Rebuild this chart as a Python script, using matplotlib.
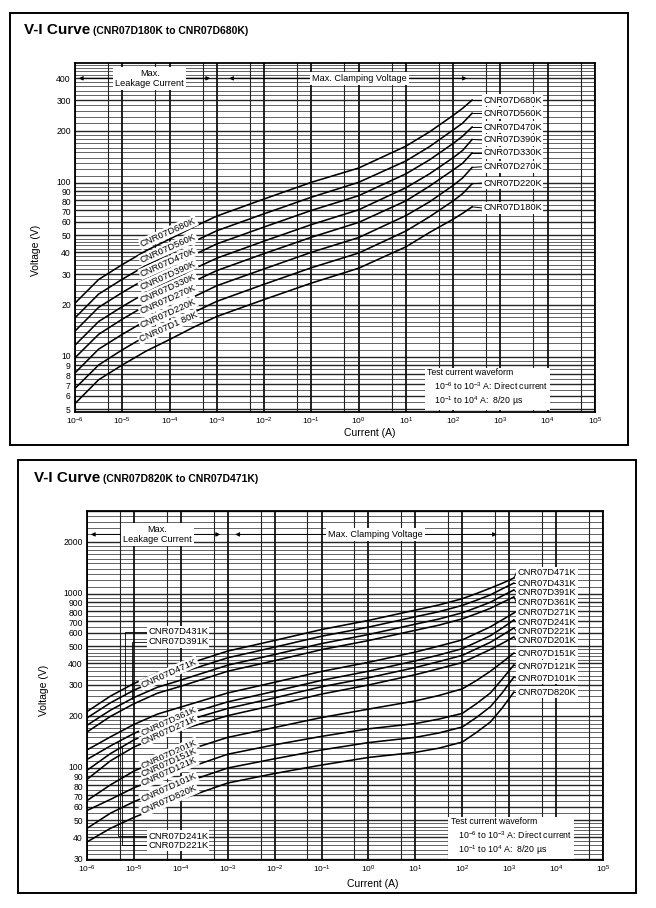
"""V-I curves of the CNR07D varistor series, redrawn from a scanned datasheet page."""

import matplotlib

matplotlib.use("Agg")
import matplotlib.pyplot as plt
import numpy as np
from matplotlib.patches import Rectangle
from matplotlib.transforms import ScaledTranslation

plt.rcParams["font.family"] = ["Liberation Sans", "DejaVu Sans"]
plt.rcParams["mathtext.fontset"] = "custom"
plt.rcParams["mathtext.rm"] = "Liberation Sans"

W, H = 656, 908

# ---- upper chart: CNR07D180K .. CNR07D680K (log10 of current in A, voltage in V)
TOP_LOG_I = [-6, -5.5, -5, -4.5, -4, -3.5, -3, -2, -1, 0, 1, 1.5, 2, 2.2, 2.4]
TOP_NAMES = ["CNR07D680K", "CNR07D560K", "CNR07D470K", "CNR07D390K",
             "CNR07D330K", "CNR07D270K", "CNR07D220K", "CNR07D180K"]
D680K = [20.4, 27.9, 34, 40.8, 47.6, 55.8, 64.6, 81, 101, 122, 163, 197, 245, 269, 300]
D560K = [16.8, 23, 28, 33.6, 39.2, 45.9, 53.2, 66.6, 82.9, 101, 134, 162, 202, 221, 252]
D470K = [14.1, 19.3, 23.5, 28.2, 32.9, 38.5, 44.7, 55.9, 69.6, 84.6, 113, 136, 169, 186, 210]
D390K = [11.7, 16, 19.5, 23.4, 27.3, 32, 37, 46.4, 57.7, 70.2, 94, 113, 140, 154, 178]
D330K = [9.9, 13.5, 16.5, 19.8, 23.1, 27.1, 31.4, 39.3, 48.8, 59.4, 79, 96, 119, 130, 149]
D270K = [8.1, 11.1, 13.5, 16.2, 18.9, 22.1, 25.7, 32.1, 40, 48.6, 65, 78, 97, 107, 123]
D220K = [6.6, 9, 11, 13.2, 15.4, 18, 20.9, 26.2, 32.6, 39.6, 53, 64, 79, 87, 99]
D180K = [5.4, 7.4, 9, 10.8, 12.6, 14.8, 17.1, 21.4, 26.6, 32.4, 43, 52, 62, 67, 73]
TOP_SERIES = [D680K, D560K, D470K, D390K, D330K, D270K, D220K, D180K]
TOP_YTICKS = [5, 6, 7, 8, 9, 10, 20, 30, 40, 50, 60, 70, 80, 90, 100, 200, 300, 400]

# ---- lower chart: CNR07D820K .. CNR07D471K
BOT_LOG_I = [-6, -5.5, -5, -4.5, -4, -3, -2, -1, 0, 1, 1.5, 2, 2.3, 2.6, 2.85, 3.1]
BOT_NAMES = ["CNR07D471K", "CNR07D431K", "CNR07D391K", "CNR07D361K",
             "CNR07D271K", "CNR07D241K", "CNR07D221K", "CNR07D201K",
             "CNR07D151K", "CNR07D121K", "CNR07D101K", "CNR07D820K"]
D471K = [211, 259, 306, 351, 385, 470, 541, 625, 705, 808, 865, 940, 1006, 1081, 1152, 1236]
D431K = [194, 237, 280, 321, 353, 430, 495, 572, 645, 740, 791, 860, 920, 989, 1070, 1156]
D391K = [176, 215, 254, 291, 320, 390, 449, 519, 585, 671, 718, 780, 835, 897, 975, 1055]
D361K = [161, 198, 234, 269, 295, 360, 414, 479, 540, 619, 662, 720, 770, 828, 893, 962]
D271K = [127, 151, 178, 204, 224, 270, 311, 359, 405, 464, 502, 545, 594, 648, 710, 778]
D241K = [112, 134, 158, 181, 199, 240, 276, 319, 360, 413, 446, 485, 528, 576, 637, 709]
D221K = [97, 121, 145, 166, 183, 220, 253, 293, 330, 378, 409, 444, 484, 528, 580, 638]
D201K = [86, 110, 132, 151, 166, 200, 230, 266, 300, 344, 372, 404, 440, 480, 520, 566]
D151K = [65, 80, 96, 110, 123, 150, 171, 195, 218, 243, 261, 285, 318, 360, 405, 458]
D121K = [57, 66, 77, 87, 97, 120, 136, 152, 168, 180, 191, 206, 234, 270, 324, 391]
D101K = [45, 55, 64, 73, 81, 100, 113, 127, 140, 150, 159, 172, 195, 225, 270, 333]
D820K = [37.6, 45, 52, 59, 66, 82, 93, 104, 115, 123, 130, 141, 160, 184, 221, 273]
BOT_SERIES = [D471K, D431K, D391K, D361K, D271K, D241K,
              D221K, D201K, D151K, D121K, D101K, D820K]
BOT_YTICKS = [30, 40, 50, 60, 70, 80, 90, 100, 200, 300, 400, 500,
              600, 700, 800, 900, 1000, 2000]

XDECADES = list(range(-6, 6))

# label placement (voltage level of each tag)
TOP_END_TAG_V = [300, 252, 210, 177, 149, 124, 100, 72]
TOP_SLANT_TAGS = ["CNR07D680K", "CNR07D560K", "CNR07D470K", "CNR07D390K",
                  "CNR07D330K", "CNR07D270K", "CNR07D220K", "CNR07D1 80K"]
TOP_SLANT_V = [52, 42, 35, 29.6, 24.9, 21.3, 17.9, 14.9]
BOT_END_TAG_V = [1321, 1156, 1026, 899, 788, 690, 612, 544, 458, 385, 329, 273]
BOT_SLANT_TAGS = ["CNR07D471K", "CNR07D361K", "CNR07D271K", "CNR07D201K",
                  "CNR07D151K", "CNR07D121K", "CNR07D101K", "CNR07D820K"]
BOT_SLANT_V = [351, 184, 165, 120, 107, 95, 77, 65.5]

WAVEFORM = ("Test current waveform\n   10$^{-6}$ to 10$^{-3}$ A: Direct current\n"
            "   10$^{-1}$ to 10$^{4}$ A:  8/20 \u00b5s")

# the printed scale nudges the crowded top-of-decade labels apart (pixels, + = up)
LABEL_NUDGE = {"1": 1.2, "9": -0.8, "8": -1.6, "7": -1.2}


def fx(px):
    return px / W


def fy(py):
    return 1 - py / H


def white(pad):
    return dict(boxstyle=f"square,pad={pad}", fc="white", ec="none")


def fine_levels(lo, hi):
    """Log-paper rulings: (value, is_integer_multiple)."""
    steps = ([1 + 0.1 * k for k in range(10)] + [2 + 0.2 * k for k in range(15)]
             + [5 + 0.5 * k for k in range(10)])
    out = []
    for d in range(int(np.floor(np.log10(lo))), int(np.ceil(np.log10(hi))) + 1):
        for m in steps:
            v = m * 10.0 ** d
            if lo <= v <= hi:
                out.append((v, abs(m - round(m)) < 1e-6))
    return out


def draw_grid(ax, ylo, yhi):
    for v, major in fine_levels(ylo, yhi):
        ax.axhline(v, color="#262626", lw=1.0 if major else 0.5, zorder=1)
    for d in XDECADES:
        ax.axvline(10.0 ** d, color="#111111", lw=1.3, zorder=1)
        if d < 5:
            ax.axvline(5 * 10.0 ** d, color="#222222", lw=0.8, zorder=1)


def style_axes(ax, ylo, yhi, yticks):
    ax.set_xscale("log")
    ax.set_yscale("log")
    ax.set_xlim(1e-6, 1e5)
    ax.set_ylim(ylo, yhi)
    ax.set_xticks([10.0 ** d for d in XDECADES])
    ax.set_xticklabels([r"$\mathregular{10^{%d}}$" % d for d in XDECADES], fontsize=6)
    ax.set_yticks(yticks)
    ax.set_yticklabels([str(v) for v in yticks], fontsize=6.2)
    ax.xaxis.set_minor_locator(matplotlib.ticker.NullLocator())
    ax.yaxis.set_minor_locator(matplotlib.ticker.NullLocator())
    ax.tick_params(which="both", length=0, pad=3)
    for lab, v in zip(ax.get_yticklabels(), yticks):
        lead = str(v)[0]
        if lead in LABEL_NUDGE and v != 5 * 10 ** int(np.log10(v)):
            dy = LABEL_NUDGE[lead] / 100
            lab.set_transform(lab.get_transform() + ScaledTranslation(0, dy, fig.dpi_scale_trans))
    for s in ax.spines.values():
        s.set_linewidth(1.3)
        s.set_zorder(6)


def range_arrows(ax, yv, leak_x, clamp_x, left_end, right_start, right_head):
    arrow = dict(arrowstyle="-|>", lw=0.7, color="black", mutation_scale=6)
    ax.annotate("", xy=(1.05e-6, yv), xytext=(leak_x * 0.25, yv), arrowprops=arrow, zorder=7)
    ax.annotate("", xy=(left_end, yv), xytext=(leak_x * 5, yv), arrowprops=arrow, zorder=7)
    ax.annotate("", xy=(right_start, yv), xytext=(clamp_x * 0.12, yv), arrowprops=arrow, zorder=7)
    ax.annotate("", xy=(right_head, yv), xytext=(clamp_x * 9, yv), arrowprops=arrow, zorder=7)
    ax.text(leak_x, yv, "Max.\nLeakage Current", ha="center", va="center", fontsize=6.6,
            linespacing=1.15, zorder=8, bbox=white(0.2))
    ax.text(clamp_x, yv, "Max. Clamping Voltage", ha="center", va="center", fontsize=6.6,
            zorder=8, bbox=white(0.2))


def draw_curves(ax, log_i, series):
    x = 10.0 ** np.array(log_i)
    for v in series:
        ax.plot(x, v, color="black", lw=1.15, zorder=3, solid_joinstyle="round")


def end_tags(ax, log_i, series, names, tag_v, tag_x):
    for v, name, tv in zip(series, names, tag_v):
        ax.plot([10.0 ** log_i[-1], tag_x], [v[-1], tv], color="black", lw=0.7, zorder=3)
        ax.text(tag_x * 1.08, tv, name, ha="left", va="center", fontsize=6.7, zorder=8,
                bbox=white(0.15))


def slant_tags(ax, tags, tag_x, tag_v, angle):
    for name, tv in zip(tags, tag_v):
        ax.text(tag_x, tv, name, ha="center", va="center", fontsize=6.8, rotation=angle,
                rotation_mode="anchor", zorder=8, bbox=white(0.12))


def curve_at(log_i, v, x):
    return 10 ** np.interp(x, log_i, np.log10(v))


fig = plt.figure(figsize=(W / 100, H / 100), dpi=100)

# outer frames of the two datasheet panels
fig.patches.append(Rectangle((fx(10), fy(445)), fx(618), 432 / H, transform=fig.transFigure,
                             fill=False, lw=1.4, ec="black"))
fig.patches.append(Rectangle((fx(18), fy(893)), fx(618), 433 / H, transform=fig.transFigure,
                             fill=False, lw=1.4, ec="black"))

# ---------------- upper panel
fig.text(fx(24), fy(30), "V-I Curve", fontsize=11, fontweight="bold", va="center")
fig.text(fx(93), fy(31), "(CNR07D180K to CNR07D680K)", fontsize=7.5, fontweight="bold", va="center")

ax1 = fig.add_axes([fx(75), fy(412), 520 / W, 349 / H])
style_axes(ax1, 4.83, 490, TOP_YTICKS)
draw_grid(ax1, 4.83, 490)
draw_curves(ax1, TOP_LOG_I, TOP_SERIES)
end_tags(ax1, TOP_LOG_I, TOP_SERIES, TOP_NAMES, TOP_END_TAG_V, 10 ** 2.6)
slant_tags(ax1, TOP_SLANT_TAGS, 10 ** -4.03, TOP_SLANT_V, 24)
range_arrows(ax1, 400, 10 ** -4.42, 10 ** 0.02, 10 ** -3.08, 10 ** -2.8, 10 ** 2.35)
ax1.text(10 ** 1.45, 8.6, WAVEFORM, ha="left", va="top", fontsize=6.3,
         linespacing=1.25, zorder=8, bbox=white(0.25))
fig.text(fx(36), fy(250), "Voltage (V)", rotation=90, fontsize=7.5, ha="center", va="center")
fig.text(fx(370), fy(433), "Current (A)", fontsize=7.5, ha="center", va="center")

# ---------------- lower panel
fig.text(fx(34), fy(478), "V-I Curve", fontsize=11, fontweight="bold", va="center")
fig.text(fx(103), fy(479), "(CNR07D820K to CNR07D471K)", fontsize=7.5, fontweight="bold", va="center")

ax2 = fig.add_axes([fx(87), fy(860), 516 / W, 349 / H])
style_axes(ax2, 29.6, 3000, BOT_YTICKS)
draw_grid(ax2, 29.6, 3000)
draw_curves(ax2, BOT_LOG_I, BOT_SERIES)
end_tags(ax2, BOT_LOG_I, BOT_SERIES, BOT_NAMES, BOT_END_TAG_V, 10 ** 3.15)
slant_tags(ax2, BOT_SLANT_TAGS, 10 ** -4.25, BOT_SLANT_V, 24)
range_arrows(ax2, 2200, 10 ** -4.5, 10 ** 0.15, 10 ** -3.1, 10 ** -2.9, 10 ** 2.8)

# flat tags with elbow leaders
for name, tv, lx, series in [("CNR07D431K", 605, -5.2, D431K), ("CNR07D391K", 530, -5.05, D391K),
                             ("CNR07D241K", 40.6, -5.34, D241K), ("CNR07D221K", 36, -5.26, D221K)]:
    tx = 10 ** -4.72
    ax2.text(tx * 1.05, tv, name, ha="left", va="center", fontsize=6.8, zorder=8, bbox=white(0.12))
    cy = curve_at(BOT_LOG_I, series, lx)
    ax2.plot([tx, 10 ** lx, 10 ** lx], [tv, tv, cy], color="black", lw=0.6, zorder=3)

ax2.text(10 ** 1.75, 52, WAVEFORM, ha="left", va="top", fontsize=6.3,
         linespacing=1.25, zorder=8, bbox=white(0.25))
fig.text(fx(44), fy(690), "Voltage (V)", rotation=90, fontsize=7.5, ha="center", va="center")
fig.text(fx(373), fy(884), "Current (A)", fontsize=7.5, ha="center", va="center")

fig.savefig("out.png", dpi=100)
